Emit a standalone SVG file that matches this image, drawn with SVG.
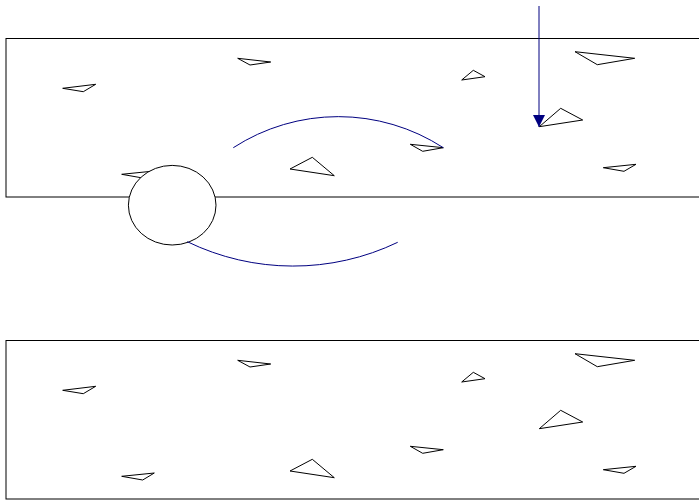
<svg xmlns="http://www.w3.org/2000/svg" xmlns:xlink="http://www.w3.org/1999/xlink" width="699" height="500" viewBox="0 0 699 500">
<style>
.panel{fill:#fff;stroke:#000;stroke-width:1}
.tri{fill:#fff;stroke:#000;stroke-width:1;stroke-linejoin:miter}
.conn{fill:none;stroke:#000080;stroke-width:1}
.ball{fill:#fff;stroke:#000;stroke-width:1}
</style>
<defs>
<marker id="ah" viewBox="0 0 10 10" refX="10" refY="5" markerWidth="13" markerHeight="12" markerUnits="userSpaceOnUse" orient="auto">
<path d="M0,0 L10,5 L0,10 z" fill="#000080"/>
</marker>
<g id="scene">
<rect class="panel" x="6" y="38.5" width="700" height="158.5"/>
<g id="tris">
<polygon class="tri" points="62.7,88.3 95.7,84.3 83.3,91.7"/>
<polygon class="tri" points="121.7,174.3 154.3,171 142.7,178"/>
<polygon class="tri" points="237.7,58.3 270.7,62 250,65"/>
<polygon class="tri" points="290,169 312.3,157.3 334.3,175.7"/>
<polygon class="tri" points="410.3,144.3 443.3,147.7 422.7,151.3"/>
<polygon class="tri" points="575,51.7 634.7,58.3 597.3,64.7"/>
<polygon class="tri" points="461.7,80 473.3,70.3 485,76.7"/>
<polygon class="tri" points="539.3,126.7 560.7,108.3 582.7,120"/>
<polygon class="tri" points="603.3,167.7 636,164.3 624,171.3"/>
</g>
</g>
</defs>
<g id="top-panel"><use xlink:href="#scene"/></g>
<g id="bottom-panel"><use xlink:href="#scene" transform="translate(0,302)"/></g>
<g id="ball"><ellipse class="ball" cx="172.2" cy="205.2" rx="43.8" ry="39.8"/></g>
<g id="connectors">
<path class="conn" d="M233.3,147.7 A193,193 0 0 1 443.3,147.7"/>
<path class="conn" d="M187.3,241.7 A242,242 0 0 0 397.7,242.3"/>
<line class="conn" x1="539" y1="6" x2="539" y2="127" marker-end="url(#ah)"/>
</g>
</svg>
